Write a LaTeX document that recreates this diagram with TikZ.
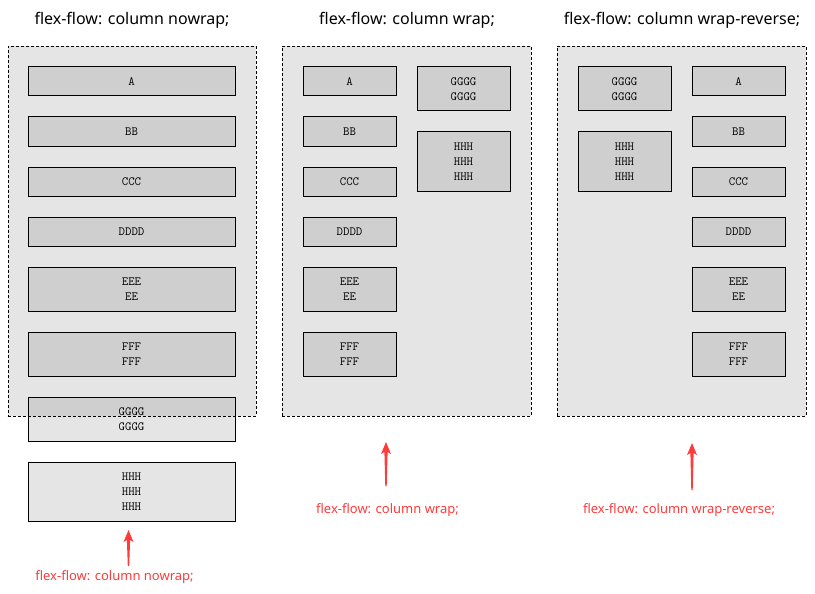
\documentclass[tikz,border=0pt]{standalone}
\usepackage{fontspec}
\setmainfont{Noto Sans}
\usetikzlibrary{calc}
\definecolor{contbg}{HTML}{E5E5E5}
\definecolor{itembg}{HTML}{CFCFCF}
\definecolor{arrowred}{HTML}{FF3B3B}
\tikzset{
  container/.style={draw=black, line width=0.9pt, dash pattern=on 3pt off 2pt, fill=contbg, inner sep=0pt},
  item/.style={draw=black, line width=1pt, fill=itembg, inner sep=0pt, align=center,
    font=\ttfamily\fontsize{12.5}{15}\selectfont},
  wide/.style={minimum width=207pt},
  narrow/.style={minimum width=93pt},
  one/.style={minimum height=29pt},
  two/.style={minimum height=44pt},
  three/.style={minimum height=59pt},
  title/.style={font=\fontsize{16}{19}\selectfont, text=black},
  note/.style={font=\fontsize{13}{16}\selectfont, text=arrowred},
}
\newcommand{\taperarrow}[2]{%
  \fill[arrowred] ($(#1)+(-0.7,0)$) -- ($(#2)+(-1.6,10)$) -- ($(#2)+(-5,12)$) -- (#2)
    -- ($(#2)+(5,12)$) -- ($(#2)+(1.6,10)$) -- ($(#1)+(0.7,0)$) -- cycle;}
\begin{document}
\begin{tikzpicture}[x=1pt,y=-1pt]
\useasboundingbox (0,0) rectangle (815,594);
% titles
\node[title] (t1) at (132,20) {flex-flow: column nowrap;};
\node[title] (t2) at (407,20) {flex-flow: column wrap;};
\node[title] (t3) at (682,20) {flex-flow: column wrap-reverse;};
% containers
\node[container, minimum width=248pt, minimum height=370pt] (c1) at (132,231) {};
\node[container, minimum width=249pt, minimum height=370pt] (c2) at (406.5,231) {};
\node[container, minimum width=249pt, minimum height=370pt] (c3) at (681.5,231) {};
% panel 1
\node[item, wide, one] (a1) at (131.5,81.5) {A};
\node[item, wide, one] (b1) at (131.5,131.5) {BB};
\node[item, wide, one] (cc1) at (131.5,181.5) {CCC};
\node[item, wide, one] (d1) at (131.5,231.5) {DDDD};
\node[item, wide, two] (e1) at (131.5,289) {EEE\\EE};
\node[item, wide, two] (f1) at (131.5,354) {FFF\\FFF};
\node[item, wide, two, fill=contbg,
  path picture={\fill[itembg] (path picture bounding box.north west) rectangle (path picture bounding box.east |- c1.south);}]
  (g1) at (131.5,419) {GGGG\\GGGG};
\draw[black, line width=0.9pt, dash pattern=on 3pt off 2pt] (c1.south west) -- (c1.south east);
\node[item, wide, three, fill=contbg] (h1) at (131.5,491.5) {HHH\\HHH\\HHH};
% panel 2
\node[item, narrow, one] (a2) at (349.5,81.5) {A};
\node[item, narrow, one] (b2) at (349.5,131.5) {BB};
\node[item, narrow, one] (cc2) at (349.5,181.5) {CCC};
\node[item, narrow, one] (d2) at (349.5,231.5) {DDDD};
\node[item, narrow, two] (e2) at (349.5,289) {EEE\\EE};
\node[item, narrow, two] (f2) at (349.5,354) {FFF\\FFF};
\node[item, narrow, two] (g2) at (463.5,89) {GGGG\\GGGG};
\node[item, narrow, three] (h2) at (463.5,161.5) {HHH\\HHH\\HHH};
% panel 3
\node[item, narrow, one] (a3) at (738.5,81.5) {A};
\node[item, narrow, one] (b3) at (738.5,131.5) {BB};
\node[item, narrow, one] (cc3) at (738.5,181.5) {CCC};
\node[item, narrow, one] (d3) at (738.5,231.5) {DDDD};
\node[item, narrow, two] (e3) at (738.5,289) {EEE\\EE};
\node[item, narrow, two] (f3) at (738.5,354) {FFF\\FFF};
\node[item, narrow, two] (g3) at (624.5,89) {GGGG\\GGGG};
\node[item, narrow, three] (h3) at (624.5,161.5) {HHH\\HHH\\HHH};
% arrows
\coordinate (p1tip) at (128.5,530);
\coordinate (p1tail) at (128.5,566);
\coordinate (p2tip) at (386,442);
\coordinate (p2tail) at (386,486);
\coordinate (p3tip) at (692,443);
\coordinate (p3tail) at (692,490);
\taperarrow{p1tail}{p1tip}
\taperarrow{p2tail}{p2tip}
\taperarrow{p3tail}{p3tip}
% notes
\node[note] (n1) at (114.5,577) {flex-flow: column nowrap;};
\node[note] (n2) at (387.5,510) {flex-flow: column wrap;};
\node[note] (n3) at (679,510) {flex-flow: column wrap-reverse;};
\end{tikzpicture}
\end{document}
